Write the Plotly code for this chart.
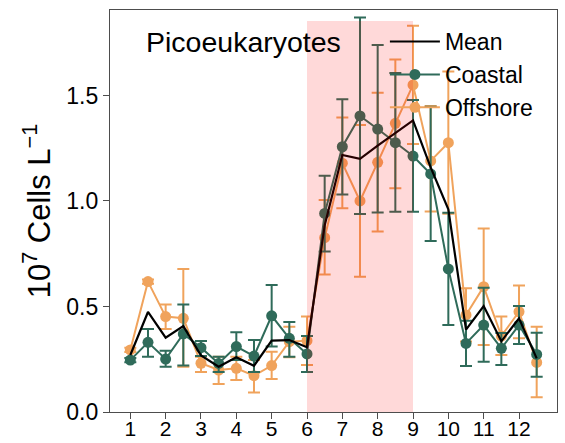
import plotly.graph_objects as go

# ---- data ----
months = [1, 1.5, 2, 2.5, 3, 3.5, 4, 4.5, 5, 5.5, 6, 6.5,
          7, 7.5, 8, 8.5, 9, 9.5, 10, 10.5, 11, 11.5, 12, 12.5]
tick_vals = [1, 2, 3, 4, 5, 6, 7, 8, 9, 10, 11, 12]
tick_text = ["1", "2", "3", "4", "5", "6", "7", "8", "9", "10", "11", "12"]

coastal = [0.246, 0.330, 0.251, 0.370, 0.305, 0.230, 0.310, 0.265, 0.456, 0.349, 0.275, 0.941,
           1.257, 1.403, 1.341, 1.276, 1.213, 1.128, 0.678, 0.325, 0.412, 0.302, 0.412, 0.273]
coastal_err_plus = [0.01, 0.063, 0.039, 0.14, 0.031, 0.032, 0.068, 0.076, 0.146, 0.078, 0.085, 0.179,
                    0.225, 0.467, 0.398, 0.33, 0.265, 0.318, 0.266, 0.107, 0.177, 0.072, 0.09, 0.103]
coastal_err_minus = [0.01, 0.068, 0.036, 0.15, 0.04, 0.04, 0.064, 0.075, 0.146, 0.087, 0.085, 0.181,
                     0.226, 0.465, 0.396, 0.327, 0.264, 0.318, 0.266, 0.107, 0.174, 0.079, 0.09, 0.106]

offshore = [0.294, 0.618, 0.452, 0.444, 0.231, 0.199, 0.207, 0.172, 0.220, 0.333, 0.338, 0.826,
            1.179, 1.000, 1.183, 1.368, 1.550, 1.190, 1.276, 0.460, 0.594, 0.360, 0.475, 0.235]
offshore_err_plus = [0.01, 0.01, 0.058, 0.234, 0.031, 0.063, 0.055, 0.074, 0.066, 0.071, 0.114, 0.179,
                     0.216, 0.360, 0.330, 0.303, 0.280, 0.260, 0.337, 0.126, 0.276, 0.092, 0.124, 0.169]
offshore_err_minus = [0.01, 0.01, 0.059, 0.229, 0.041, 0.066, 0.055, 0.08, 0.064, 0.074, 0.115, 0.174,
                      0.214, 0.359, 0.328, 0.308, 0.280, 0.240, 0.337, 0.126, 0.276, 0.09, 0.126, 0.165]

mean = [0.270, 0.474, 0.352, 0.407, 0.268, 0.215, 0.259, 0.219, 0.338, 0.341, 0.307, 0.884,
        1.218, 1.200, 1.262, 1.322, 1.382, 1.159, 0.960, 0.390, 0.502, 0.335, 0.444, 0.254]

green = "#2f6b5a"
orange = "#f0a35c"
font_family = "Liberation Sans, Arial, sans-serif"

fig = go.Figure()

fig.add_trace(go.Scatter(
    x=months, y=offshore, name="Offshore", mode="lines+markers",
    line=dict(color=orange, width=2), marker=dict(color=orange, size=11),
    error_y=dict(type="data", symmetric=False, array=offshore_err_plus,
                 arrayminus=offshore_err_minus, color=orange, thickness=2, width=6),
    legendrank=3, legendgroup="o",
))
fig.add_trace(go.Scatter(
    x=months, y=coastal, name="Coastal", mode="lines+markers",
    line=dict(color=green, width=2), marker=dict(color=green, size=11),
    error_y=dict(type="data", symmetric=False, array=coastal_err_plus,
                 arrayminus=coastal_err_minus, color=green, thickness=2, width=6),
    legendrank=2, legendgroup="c",
))
fig.add_trace(go.Scatter(
    x=months, y=mean, name="Mean", mode="lines",
    line=dict(color="black", width=2.2),
    legendrank=1, legendgroup="m",
))

fig.add_shape(type="rect", xref="x", yref="y", x0=6, x1=9, y0=0, y1=1.853,
              fillcolor="rgba(255,0,0,0.15)", line=dict(width=0), layer="above")

fig.add_annotation(text="Picoeukaryotes", xref="paper", yref="paper",
                   x=0.075, y=0.92, xanchor="left", yanchor="middle",
                   showarrow=False, font=dict(size=28.5, color="black", family=font_family))

axis_common = dict(showline=True, mirror=True, linecolor="#4d4d4d", linewidth=1.3,
                   ticks="outside", ticklen=6, tickcolor="#4d4d4d", tickwidth=1.3,
                   showgrid=False, zeroline=False, automargin=False)

fig.update_layout(
    width=565, height=443,
    margin=dict(l=110, r=8, t=10, b=31),
    paper_bgcolor="white", plot_bgcolor="white",
    font=dict(family=font_family, color="black"),
    showlegend=True,
    legend=dict(x=0.615, y=0.975, xanchor="left", yanchor="top",
                bgcolor="rgba(0,0,0,0)", font=dict(size=23, color="black"),
                itemwidth=50, tracegroupgap=0, traceorder="grouped"),
    xaxis=dict(range=[0.425, 13.075], tickvals=tick_vals, ticktext=tick_text,
               tickfont=dict(size=21, color="black", family=font_family),
               ticklabelstandoff=-8, **axis_common),
    yaxis=dict(range=[0, 1.905], tickvals=[0, 0.5, 1.0, 1.5], ticktext=["0.0", "0.5", "1.0", "1.5"],
               tickfont=dict(size=23, color="black", family=font_family),
               title=dict(text="10<sup>7</sup> Cells L<sup>\u22121</sup>", font=dict(size=31), standoff=6),
               **axis_common),
)

fig.write_html("out.html")
